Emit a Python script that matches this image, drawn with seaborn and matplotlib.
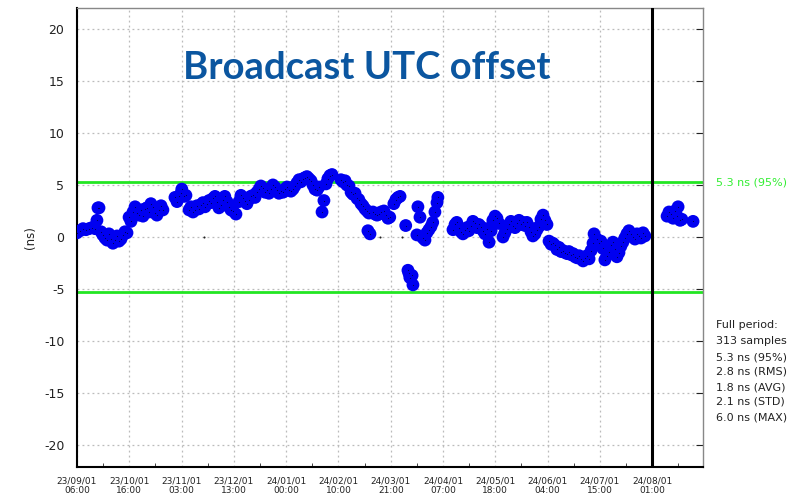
import numpy as np
import pandas as pd
import matplotlib
matplotlib.use('Agg')
import matplotlib.pyplot as plt
from matplotlib.ticker import MultipleLocator, FixedLocator
import seaborn as sns

sns.set_style('white')
plt.rcParams['font.family'] = ['DejaVu Sans']
plt.rcParams['axes.unicode_minus'] = False

# days since 23/09/01 06:00 and broadcast UTC offset (ns)
day = [0, 1.7, 3.5, 5.2, 7, 8.7, 10.5, 11.6, 12.2, 12.8, 14, 15, 16.3, 17.5, 18.6, 19.8,
       20.9, 22, 23.3, 24.4, 25.6, 26.8, 27.9, 29.1,
       30.3, 31.4, 32.6, 33.8, 35, 36, 37.2, 38.4, 39.6, 40.7, 41.9, 43, 44.2, 45.4, 46.5,
       47.7, 48.9, 50, 57, 58.2, 59.3, 60.5, 61, 62.3, 63.4,
       65.2, 66.3, 67.5, 68.7, 69.8, 71, 72.1, 73.3, 74.5, 75.7, 76.8, 78, 79.1, 80.3, 81.5,
       82.6, 83.8, 85, 86, 87.3, 88.4, 89.6, 90.8, 92.5,
       94.3, 95.4, 96.6, 97.8, 98.9, 100, 101, 102.4, 103.6, 104.7, 106, 107, 108.2, 109.4,
       110.5, 111.7, 112.9, 114, 115.2, 116.4, 117.5, 118.7, 119.9,
       121, 122.2, 123.3, 124.5, 125.7, 126.8, 128, 129.2, 130.3, 131.5, 132.7, 133.8, 135,
       136.2, 137.3, 138.5, 139.7, 140.8, 142.6, 143.7, 144.9, 146, 147.2, 148.4,
       153.6, 154.8, 156, 157, 158.3, 159.5, 160.6, 161.8, 163, 164, 165.3, 166.4, 167.6,
       168.8, 169.9, 169.3, 170.5, 172.2, 173.4, 174.6, 175.7, 176.9, 178.6, 179.8, 181,
       182, 184.4, 185.6, 186.8, 188, 191.3, 192.6, 193.2, 193.7, 195, 195.5, 197.8, 198.4,
       199.6, 201.3, 202.5, 203.6, 204.8, 206, 207, 208.3, 209.5, 210,
       218.8, 220, 221, 222.3, 223.4, 224.6, 225.7, 226.9, 228, 229.3, 230.4, 231.6, 232.8,
       233.9, 235, 236.3, 237.4, 238.6, 239.8, 241, 242, 243.3, 244.4, 245.6,
       247.9, 249, 250.2, 251.4, 252.5, 253.7, 254.9, 256, 257.2, 258.3, 259.5, 260.7, 261.8,
       263, 264.2, 265.3, 266.5, 267.7, 268.8, 270, 271.2, 272.3, 273.5,
       274.7, 275.9, 277, 278.2, 279.3, 280.5, 281.7, 282.8, 284, 285.2, 286.3, 287.5, 288.7,
       289.8, 291, 292.2, 293.3, 294.5, 295.7, 296.8, 298, 299.2, 300.3, 300.9,
       302.5, 303.7, 304.9, 306, 307.2, 308.4, 309.5, 310.7, 311.9, 313, 314.2, 315.4, 316.5,
       317.7, 318.8, 320, 321.2, 322.4, 323.5, 324.7, 325.9, 327, 328.2, 329.4, 330.5,
       343.4, 344.5, 345.7, 346.9, 348, 349.2, 349.8, 351, 352, 358.5]
offset_ns = [0.4, 0.6, 0.8, 0.7, 0.8, 0.9, 0.8, 1.6, 2.8, 2.8, 0.5, 0.2, -0.1, -0.3, 0.3, -0.2,
             -0.6, -0.3, 0.1, -0.4, -0.2, 0.2, 0.5, 0.4,
             1.9, 1.5, 2.4, 2.9, 2.3, 2.1, 2.6, 2.0, 2.7, 2.8, 2.4, 3.2, 2.9, 2.3, 2.1,
             2.6, 3.0, 2.6, 3.8, 3.4, 3.9, 4.2, 4.6, 3.9, 4.0,
             2.6, 2.9, 2.4, 2.6, 3.0, 2.7, 3.1, 3.3, 2.9, 3.2, 3.5, 3.3, 3.7, 3.9, 3.4,
             2.8, 3.1, 3.6, 3.9, 3.4, 2.9, 2.6, 2.5, 2.2,
             3.4, 4.0, 3.7, 3.5, 3.2, 3.6, 3.9, 4.0, 3.8, 4.3, 4.6, 4.9, 4.7, 4.3,
             4.5, 4.2, 4.6, 5.0, 4.8, 4.5, 4.2, 4.4, 4.3,
             4.6, 4.8, 4.5, 4.4, 4.6, 4.9, 5.2, 5.5, 5.3, 5.6, 5.7, 5.8, 5.6,
             5.4, 5.0, 4.6, 4.5, 4.8, 2.4, 3.5, 5.1, 5.6, 5.9, 6.0,
             5.5, 5.3, 5.4, 5.0, 4.9, 4.3, 4.1, 4.2, 3.7, 3.6, 3.2, 3.0, 2.7,
             2.5, 2.3, 0.6, 0.3, 2.4, 2.2, 2.1, 2.2, 2.4, 2.5, 2.1, 1.8,
             1.9, 3.2, 3.6, 3.8, 3.9, 1.1, -3.2, -3.5, -3.9, -3.7, -4.6, 0.2, 2.9,
             1.9, -0.1, -0.3, 0.4, 0.7, 1.0, 1.4, 2.4, 3.3, 3.8,
             0.7, 1.2, 1.4, 0.9, 0.5, 0.3, 0.7, 0.9, 0.6, 1.1, 1.5, 1.3, 0.9,
             1.2, 1.0, 0.6, 0.3, 0.8, -0.5, 0.6, 1.6, 2.0, 1.8, 1.3,
             0.0, 0.4, 0.8, 1.2, 1.5, 1.1, 0.9, 1.3, 1.6, 1.2, 1.4, 1.1, 1.4,
             1.0, 0.5, 0.1, 0.3, 0.7, 1.0, 1.7, 2.1, 1.6, 1.2,
             -0.4, -0.7, -0.6, -0.8, -1.2, -1.0, -1.4, -1.3, -1.5, -1.6, -1.4, -1.7, -1.6,
             -1.9, -2.0, -1.8, -2.1, -2.3, -2.0, -1.8, -2.1, -1.3, -0.6, 0.3,
             -0.2, -0.6, -0.4, -1.1, -2.2, -1.8, -1.4, -0.8, -0.5, -1.2, -1.9, -1.5, -0.9,
             -0.5, -0.1, 0.3, 0.6, 0.3, 0.0, -0.2, 0.3, 0.1, -0.1, 0.4, 0.1,
             2.0, 2.4, 2.2, 1.8, 2.5, 2.0, 2.9, 1.6, 1.7, 1.5]

# samples without a blue marker (drawn only as small dots)
day_zero = [73.7, 176.2, 189]
val_zero = [0, 0, 0]

tick_labels = ['23/09/01\n06:00', '23/10/01\n16:00', '23/11/01\n03:00', '23/12/01\n13:00',
               '24/01/01\n00:00', '24/02/01\n10:00', '24/03/01\n21:00', '24/04/01\n07:00',
               '24/05/01\n18:00', '24/06/01\n04:00', '24/07/01\n15:00', '24/08/01\n01:00']
month_len = 30.43
limit_95 = 5.3
stats = ['5.3 ns (95%)', '2.8 ns (RMS)', '1.8 ns (AVG)', '2.1 ns (STD)', '6.0 ns (MAX)']

df = pd.DataFrame({'day': day, 'offset': offset_ns})

fig = plt.figure(figsize=(8.03, 4.95), dpi=100)
ax = fig.add_axes([77 / 803, 1 - 467 / 495, 626 / 803, 459 / 495])

ax.axhline(limit_95, color='#22e622', lw=2, zorder=2)
ax.axhline(-limit_95, color='#22e622', lw=2, zorder=2)
ax.axvline(11 * month_len, color='black', lw=2.2, zorder=4)

sns.scatterplot(data=df, x='day', y='offset', ax=ax, color='#0000f0', s=85,
                edgecolor='none', linewidth=0, zorder=3, legend=False)
ax.plot(df['day'], df['offset'], ls='none', marker='o', ms=0.8, mew=0,
        color='#000044', zorder=5)
ax.plot(day_zero, val_zero, ls='none', marker='o', ms=1.5, mew=0, color='#222222', zorder=5)

ax.set_xlim(0, 364.3)
ax.set_ylim(-22.1, 22.0)
ax.xaxis.set_major_locator(FixedLocator([k * month_len for k in range(len(tick_labels))]))
ax.set_xticklabels(tick_labels, linespacing=1.1)
ax.xaxis.set_minor_locator(FixedLocator([(k + 0.5) * month_len for k in range(12)]))
ax.yaxis.set_major_locator(MultipleLocator(5))

ax.grid(True, which='major', color='#bbbbbb', ls=(0, (1.5, 2.5)), lw=0.9)
ax.tick_params(axis='x', which='major', direction='in', length=5, labelsize=6.5,
               colors='#222222', pad=7)
ax.tick_params(axis='x', which='minor', direction='in', length=3, bottom=True)
ax.tick_params(axis='y', which='major', direction='in', length=5, labelsize=9,
               colors='#222222', right=True, pad=9)

for side in ['left', 'bottom']:
    ax.spines[side].set_color('black')
    ax.spines[side].set_linewidth(1.5)
for side in ['top', 'right']:
    ax.spines[side].set_color('#888888')
    ax.spines[side].set_linewidth(1.0)

ax.set_xlabel('')
ax.set_ylabel('(ns)', fontsize=8.5, color='#222222', labelpad=5)

ax.text(0.4625, 0.869, 'Broadcast UTC offset', transform=ax.transAxes, ha='center',
        va='center', fontsize=27.5, fontweight='bold', color='#0b56a0',
        family=['Lato', 'DejaVu Sans'])

fig.text(716 / 803, 1 - 183 / 495, '5.3 ns (95%)', color='#33ee33', fontsize=8, va='center')
fig.text(716 / 803, 1 - 325 / 495, 'Full period:', color='#222222', fontsize=8, va='center')
fig.text(716 / 803, 1 - 341 / 495, '313 samples', color='#222222', fontsize=8, va='center')
for i, s in enumerate(stats):
    fig.text(716 / 803, 1 - (357 + 15 * i) / 495, s, color='#222222', fontsize=8, va='center')

fig.savefig('out.png', dpi=100)
